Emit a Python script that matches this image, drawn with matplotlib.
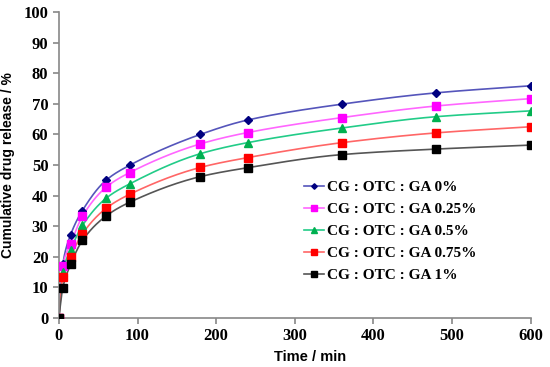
import numpy as np
import matplotlib.pyplot as plt

time_min = [0, 5, 15, 30, 60, 90, 180, 240, 360, 480, 600]

ga_0 = [0, 17.5, 27.2, 35.1, 45.0, 49.9, 60.0, 64.7, 69.9, 73.6, 75.9]
ga_025 = [0, 17.1, 24.2, 33.2, 42.7, 47.5, 56.9, 60.6, 65.5, 69.3, 71.7]
ga_05 = [0, 15.0, 22.3, 30.2, 39.1, 43.8, 53.7, 57.3, 62.1, 65.8, 67.7]
ga_075 = [0, 13.5, 20.0, 27.5, 35.8, 40.4, 49.2, 52.4, 57.3, 60.5, 62.5]
ga_1 = [0, 9.8, 17.5, 25.3, 33.3, 37.8, 46.2, 49.1, 53.4, 55.2, 56.5]

labels = ['CG : OTC : GA 0%', 'CG : OTC : GA 0.25%', 'CG : OTC : GA 0.5%',
          'CG : OTC : GA 0.75%', 'CG : OTC : GA 1%']


def smooth(x, y, n=25):
  # cubic Hermite curve through the points (smoothed line look)
  x = np.asarray(x, float)
  y = np.asarray(y, float)
  h = np.diff(x)
  d = np.diff(y) / h
  m = np.empty_like(y)
  m[0] = d[0]
  m[-1] = d[-1]
  for i in range(1, len(x) - 1):
    if d[i - 1] * d[i] <= 0:
      m[i] = 0
    else:
      w1 = 2 * h[i] + h[i - 1]
      w2 = h[i] + 2 * h[i - 1]
      m[i] = (w1 + w2) / (w1 / d[i - 1] + w2 / d[i])
  xs, ys = [], []
  t = np.linspace(0, 1, n)
  for i in range(len(x) - 1):
    h00 = 2 * t ** 3 - 3 * t ** 2 + 1
    h10 = t ** 3 - 2 * t ** 2 + t
    h01 = -2 * t ** 3 + 3 * t ** 2
    h11 = t ** 3 - t ** 2
    xs.extend(x[i] + t * h[i])
    ys.extend(h00 * y[i] + h10 * h[i] * m[i] + h01 * y[i + 1] + h11 * h[i] * m[i + 1])
  return xs, ys


series = [ga_0, ga_025, ga_05, ga_075, ga_1]
line_colors = ['#5555bb', '#ff66ff', '#22cc88', '#ff6666', '#555555']
marker_colors = ['#000080', '#ff00ff', '#00b050', '#ff0000', '#000000']
markers = ['D', 's', '^', 's', 's']
msizes = [4, 6, 5.5, 5.5, 5.5]

fig = plt.figure(figsize=(5.5, 3.67), dpi=100)
ax = fig.add_axes([0.107, 0.134, 0.858, 0.833])

for vals, lab, lc, mc, mk, ms in zip(series, labels, line_colors, marker_colors, markers, msizes):
  sx, sy = smooth(time_min, vals)
  ax.plot(sx, sy, color=lc, lw=1.2, zorder=2)
  ax.plot(time_min, vals, linestyle='none', marker=mk, color=mc, markersize=ms, zorder=3)
  ax.plot([], [], color=lc, lw=1.2, marker=mk, markerfacecolor=mc, markeredgecolor=mc,
          markersize=ms * 0.7, label=lab)

ax.set_xlim(0, 600)
ax.set_ylim(0, 100)
ax.set_xticks(range(0, 601, 100))
ax.set_yticks(range(0, 101, 10))

for s in ['top', 'right']:
  ax.spines[s].set_visible(False)
for s in ['left', 'bottom']:
  ax.spines[s].set_color('#888888')
  ax.spines[s].set_linewidth(1.2)
ax.tick_params(direction='out', color='#888888', length=4, width=1.2)
for t in ax.get_xticklabels() + ax.get_yticklabels():
  t.set_fontfamily('Liberation Serif')
  t.set_fontweight('bold')
  t.set_fontsize(12)

ax.set_xlabel('Time / min', fontfamily='Liberation Sans', fontweight='bold', fontsize=10.5)
ax.xaxis.set_label_coords(0.532, -0.105)
ax.set_ylabel('Cumulative drug release / %', fontfamily='Liberation Sans', fontweight='bold',
              fontsize=10, labelpad=6)

leg = ax.legend(loc='upper left', bbox_to_anchor=(0.49, 0.495), frameon=False,
                prop={'family': 'Liberation Serif', 'weight': 'bold', 'size': 11},
                handlelength=1.3, handletextpad=0.2, labelspacing=0.55)

fig.savefig('out.png', dpi=100)
